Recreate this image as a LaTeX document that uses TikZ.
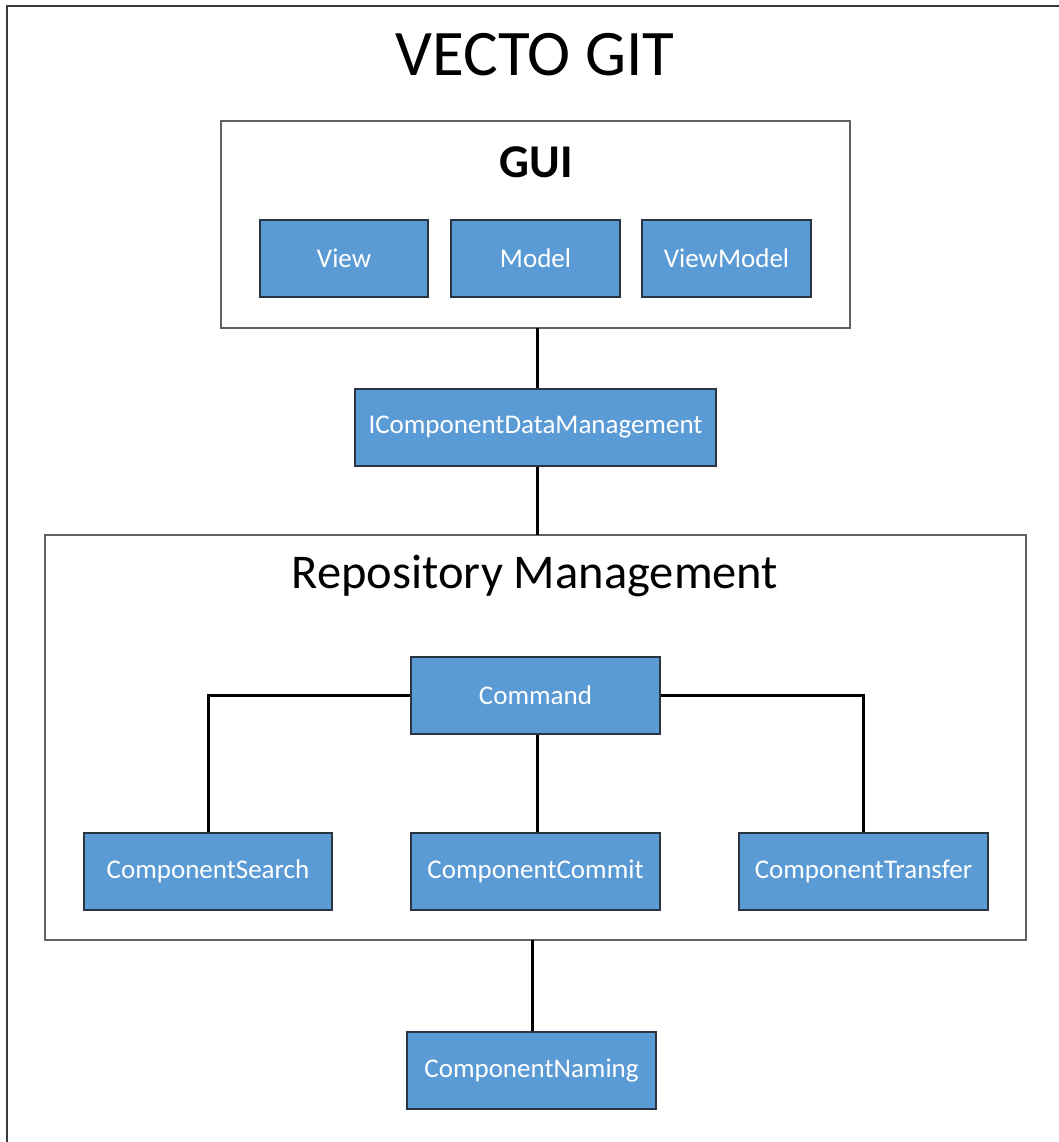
\documentclass[tikz,border=0pt]{standalone}
\usepackage{fontspec}
\setmainfont{Carlito}
\definecolor{boxblue}{HTML}{5B9BD5}
\definecolor{boxedge}{HTML}{2A3542}
\definecolor{frameedge}{HTML}{3A3A3A}
\tikzset{
  comp/.style={draw=boxedge, line width=1.4pt, fill=boxblue, text=white,
    font=\fontsize{27}{32}\selectfont, inner sep=0pt},
  group/.style={draw=frameedge!80, line width=1.3pt, fill=white},
  link/.style={draw=black, line width=3pt},
}
\begin{document}
\begin{tikzpicture}[x=1pt,y=-1pt]
\useasboundingbox (0,0) rectangle (1059,1142);
% outer frame, open to the right and bottom
\draw[frameedge, line width=2pt] (7,1142) -- (7,6) -- (1059,6);
\node (title) at (535,55) {\fontsize{65}{70}\selectfont VECTO GIT};

% GUI layer
\path[group] (221,121) rectangle (850,328);
\coordinate (guibottom) at (537,328);
\node (gui) at (536,162) {\fontsize{47}{52}\selectfont\bfseries GUI};
\node[comp, minimum width=168pt, minimum height=77pt] (view) at (344,258.5) {View};
\node[comp, minimum width=169pt, minimum height=77pt] (model) at (535.5,258.5) {Model};
\node[comp, minimum width=169pt, minimum height=77pt] (viewmodel) at (726.5,258.5) {ViewModel};

% interface between GUI and repository management
\node[comp, minimum width=361pt, minimum height=77pt] (icdm) at (535.5,427.5) {IComponentDataManagement};

% repository management layer
\path[group] (45,535) rectangle (1026,940);
\coordinate (repotop) at (537,535);
\coordinate (repobottom) at (532,940);
\node (repo) at (535,576) {\fontsize{48.5}{54}\selectfont Repository Management};
\node[comp, minimum width=249pt, minimum height=77pt] (cmd) at (535.5,695.5) {Command};
\node[comp, minimum width=248pt, minimum height=77pt] (search) at (208,871.5) {ComponentSearch};
\node[comp, minimum width=249pt, minimum height=77pt] (commit) at (535.5,871.5) {ComponentCommit};
\node[comp, minimum width=249pt, minimum height=77pt] (transfer) at (863.5,871.5) {ComponentTransfer};

\node[comp, minimum width=249pt, minimum height=77pt] (naming) at (531.5,1070.5) {ComponentNaming};

% connectors
\draw[link] (guibottom) -- (icdm.north -| guibottom);
\draw[link] (icdm.south -| repotop) -- (repotop);
\draw[link] (cmd.west) -| (search.north);
\draw[link] (cmd.east) -| (transfer.north);
\draw[link] (cmd.south -| 537,0) -- (commit.north -| 537,0);
\draw[link] (repobottom) -- (naming.north -| repobottom);
\end{tikzpicture}
\end{document}
